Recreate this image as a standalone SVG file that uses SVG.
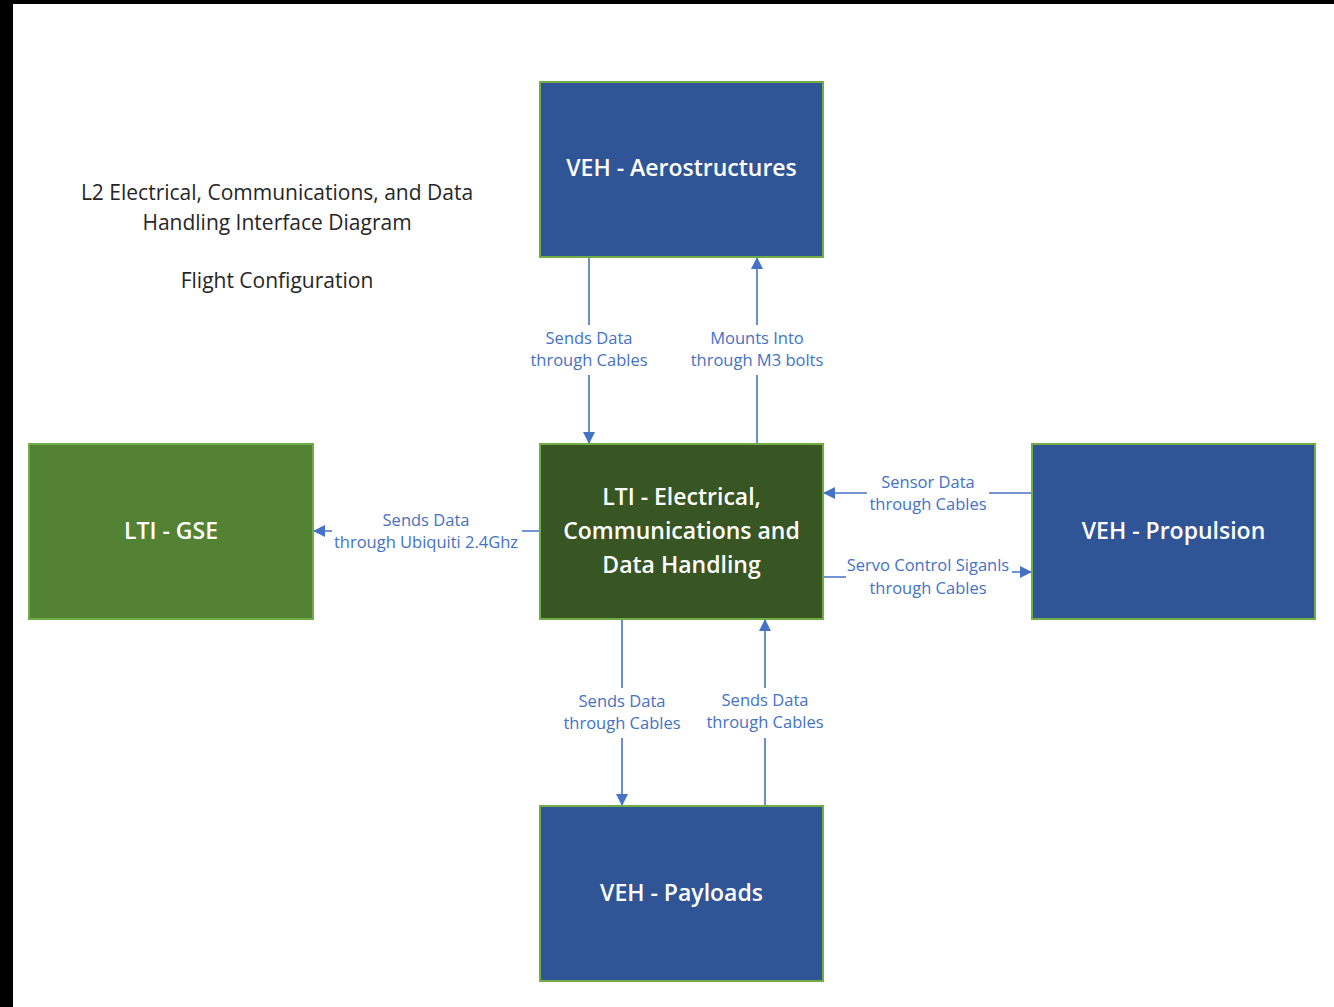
<svg xmlns="http://www.w3.org/2000/svg" width="1334" height="1007" viewBox="0 0 1334 1007">
  <style>
    .box { stroke: #70AD47; stroke-width: 2; }
    .blue { fill: #2F5597; }
    .dk { fill: #375623; }
    .gr { fill: #548235; }
    .nt { fill: #FFFFFF; font-family: "Open Sans", "Noto Sans", sans-serif; font-size: 23px; font-weight: 600; text-anchor: middle; }
    .cl { fill: #4472C4; font-family: "Open Sans", "Noto Sans", sans-serif; font-size: 16.5px; text-anchor: middle; }
    .tt { fill: #262626; font-family: "Open Sans", "Noto Sans", sans-serif; font-size: 21px; text-anchor: middle; }
    .ln { stroke: #4472C4; stroke-width: 1.6; fill: none; marker-end: url(#ah); }
  </style>
  <defs>
    <marker id="ah" viewBox="0 0 12 12" refX="12" refY="6" markerWidth="12" markerHeight="12" markerUnits="userSpaceOnUse" orient="auto">
      <path d="M0,0 L12,6 L0,12 z" fill="#4472C4"/>
    </marker>
  </defs>

  <!-- frame -->
  <rect x="0" y="0" width="1334" height="1007" fill="#FFFFFF"/>
  <rect x="0" y="0" width="1334" height="4" fill="#000000"/>
  <rect x="0" y="0" width="13" height="1007" fill="#000000"/>

  <!-- title -->
  <g id="title">
    <text class="tt" x="277" y="200">L2 Electrical, Communications, and Data</text>
    <text class="tt" x="277" y="230">Handling Interface Diagram</text>
    <text class="tt" x="277" y="288">Flight Configuration</text>
  </g>

  <!-- connectors -->
  <g id="connectors">
    <path class="ln" d="M589,257 V444"/>
    <path class="ln" d="M757,444 V257"/>
    <path class="ln" d="M540,531 H313"/>
    <path class="ln" d="M1032,493 H823"/>
    <path class="ln" d="M823,577 H928 V572 H1032"/>
    <path class="ln" d="M622,619 V806"/>
    <path class="ln" d="M765,806 V619"/>

    <g id="labels">
      <rect x="525" y="325" width="128" height="50" fill="#FFFFFF"/>
      <text class="cl" x="589" y="344">Sends Data</text>
      <text class="cl" x="589" y="366">through Cables</text>

      <rect x="686" y="325" width="142" height="50" fill="#FFFFFF"/>
      <text class="cl" x="757" y="344">Mounts Into</text>
      <text class="cl" x="757" y="366">through M3 bolts</text>

      <rect x="332" y="508" width="190" height="48" fill="#FFFFFF"/>
      <text class="cl" x="426" y="526">Sends Data</text>
      <text class="cl" x="426" y="548">through Ubiquiti 2.4Ghz</text>

      <rect x="867" y="470" width="122" height="48" fill="#FFFFFF"/>
      <text class="cl" x="928" y="488">Sensor Data</text>
      <text class="cl" x="928" y="510">through Cables</text>

      <rect x="846" y="553" width="166" height="48" fill="#FFFFFF"/>
      <text class="cl" x="928" y="571">Servo Control Siganls</text>
      <text class="cl" x="928" y="594">through Cables</text>

      <rect x="560" y="688" width="124" height="50" fill="#FFFFFF"/>
      <text class="cl" x="622" y="707">Sends Data</text>
      <text class="cl" x="622" y="729">through Cables</text>

      <rect x="703" y="688" width="124" height="50" fill="#FFFFFF"/>
      <text class="cl" x="765" y="706">Sends Data</text>
      <text class="cl" x="765" y="728">through Cables</text>
    </g>
  </g>

  <!-- nodes -->
  <g id="veh-aerostructures">
    <rect class="box blue" x="540" y="82" width="283" height="175"/>
    <text class="nt" x="681.5" y="176">VEH - Aerostructures</text>
  </g>
  <g id="lti-ecdh">
    <rect class="box dk" x="540" y="444" width="283" height="175"/>
    <text class="nt" x="681.5" y="505">LTI - Electrical,</text>
    <text class="nt" x="681.5" y="539">Communications and</text>
    <text class="nt" x="681.5" y="573">Data Handling</text>
  </g>
  <g id="lti-gse">
    <rect class="box gr" x="29" y="444" width="284" height="175"/>
    <text class="nt" x="171" y="539">LTI - GSE</text>
  </g>
  <g id="veh-propulsion">
    <rect class="box blue" x="1032" y="444" width="283" height="175"/>
    <text class="nt" x="1173.5" y="539">VEH - Propulsion</text>
  </g>
  <g id="veh-payloads">
    <rect class="box blue" x="540" y="806" width="283" height="175"/>
    <text class="nt" x="681.5" y="901">VEH - Payloads</text>
  </g>
</svg>
